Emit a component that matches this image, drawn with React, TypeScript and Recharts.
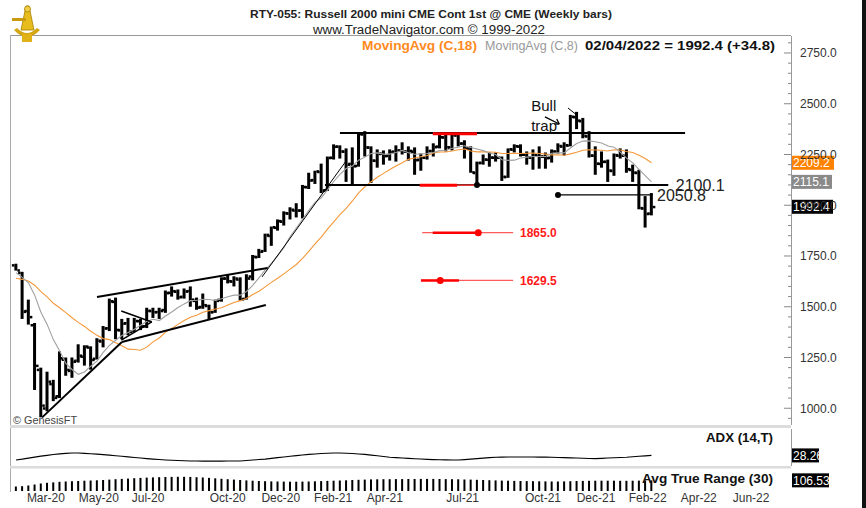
import React from "react";
import { ComposedChart, Bar, Line, XAxis, YAxis, ReferenceLine, ReferenceDot } from "recharts";

// ---------- data (weekly bars, RTY continuous) ----------
const opens = [1705,1668,1480,1410,1190,1000,1120,1060,1240,1185,
1235,1255,1300,1245,1330,1395,1525,1385,1420,1380,
1430,1405,1480,1475,1485,1570,1575,1550,1578,1530,
1500,1505,1475,1535,1640,1625,1635,1540,1650,1745,
1775,1850,1890,1920,1960,1975,1975,2090,2125,2165,
2075,2235,2290,2265,2205,2195,2350,2285,2220,2255,
2245,2265,2270,2265,2265,2225,2235,2268,2290,2335,
2285,2345,2305,2280,2160,2210,2225,2235,2235,2140,
2275,2290,2250,2235,2245,2240,2235,2265,2290,2295,
2435,2415,2340,2245,2205,2215,2170,2245,2245,2175,
2160,1985,1960];
const highs = [1712,1672,1535,1420,1200,1180,1140,1280,1250,1250,
1315,1310,1305,1345,1405,1540,1545,1440,1445,1445,
1440,1495,1495,1495,1580,1600,1585,1590,1600,1545,
1565,1510,1535,1645,1660,1650,1645,1660,1755,1785,
1860,1895,1930,1970,1990,2010,2100,2160,2170,2205,
2240,2300,2295,2280,2285,2355,2365,2290,2275,2270,
2275,2295,2310,2290,2285,2255,2290,2305,2350,2350,
2350,2350,2320,2290,2215,2250,2260,2260,2240,2280,
2300,2300,2265,2275,2290,2260,2275,2305,2310,2445,
2460,2430,2365,2290,2265,2225,2255,2280,2275,2200,
2175,2045,2060];
const lows = [1678,1440,1412,1090,955,985,1035,1050,1160,1150,
1225,1210,1190,1240,1300,1380,1340,1340,1360,1375,
1385,1395,1445,1440,1470,1550,1535,1540,1500,1485,
1490,1440,1470,1525,1615,1600,1530,1535,1630,1740,
1770,1800,1875,1900,1930,1940,1935,2080,2105,2060,
2070,2225,2230,2115,2100,2190,2240,2110,2185,2200,
2220,2215,2250,2220,2150,2170,2225,2240,2280,2265,
2270,2290,2230,2160,2095,2200,2190,2215,2120,2135,
2260,2240,2200,2175,2180,2180,2210,2255,2245,2290,
2375,2330,2235,2150,2185,2115,2145,2230,2160,2115,
1980,1890,1950];
const closes = [1680,1476,1450,1210,1014,1132,1052,1247,1190,1230,
1260,1305,1239,1334,1394,1528,1387,1418,1377,1431,
1404,1481,1474,1480,1568,1578,1548,1576,1536,1497,
1509,1474,1530,1640,1627,1640,1538,1640,1747,1772,
1855,1893,1923,1962,1979,1975,2091,2123,2168,2073,
2234,2289,2266,2201,2193,2352,2286,2221,2254,2243,
2263,2271,2266,2269,2223,2235,2268,2287,2336,2287,
2346,2305,2280,2163,2209,2226,2236,2235,2141,2277,
2292,2250,2237,2248,2241,2233,2266,2293,2297,2437,
2418,2343,2246,2206,2215,2172,2248,2245,2179,2162,
1987,1958,1992.4];
const movingAvg18 = [1640,1635,1627,1606,1574,1549,1517,1495,1471,1446,
1423,1403,1379,1359,1343,1338,1323,1308,1291,1289,
1286,1301,1327,1346,1375,1393,1413,1432,1448,1458,
1473,1481,1489,1495,1508,1521,1530,1541,1560,1576,
1598,1620,1640,1662,1685,1708,1738,1773,1810,1843,
1882,1918,1954,1985,2021,2061,2091,2116,2138,2157,
2176,2193,2209,2226,2233,2239,2245,2257,2262,2262,
2267,2273,2277,2267,2263,2263,2262,2261,2255,2255,
2256,2255,2256,2257,2255,2252,2248,2249,2246,2253,
2261,2271,2273,2272,2271,2267,2273,2272,2265,2260,
2246,2230,2209.2];
const movingAvg8 = [1668,1645,1618,1557,1473,1413,1338,1283,1221,1191,
1167,1179,1207,1232,1275,1310,1335,1358,1373,1389,
1409,1428,1438,1432,1454,1474,1496,1514,1530,1532,
1537,1536,1531,1539,1549,1557,1557,1575,1605,1642,
1682,1714,1751,1791,1846,1888,1931,1975,2014,2037,
2076,2117,2152,2181,2193,2222,2237,2255,2258,2252,
2252,2260,2270,2259,2251,2253,2255,2260,2269,2271,
2281,2286,2293,2284,2277,2269,2257,2250,2224,2221,
2222,2233,2237,2240,2240,2240,2256,2258,2258,2282,
2304,2316,2317,2313,2307,2292,2286,2262,2232,2209,
2177,2146,2115.1];
const adxValues = [14.5,17,20,23,26,28.5,31,33,34.5,35.5,
35.3,34.5,33.3,32,30.5,29,27.3,25.6,23.8,22,
20.3,18.7,17.2,15.8,14.6,13.6,12.8,12.1,11.5,11.3,
11.2,11.1,11.1,11.2,11.3,11.4,11.5,12.8,14.3,15.8,
17.2,19.3,21.5,23.6,25.7,27.7,29.6,31.3,32.6,33.8,
34.8,35.5,35.3,34.7,33.8,32.6,31.3,29.2,27.1,25,
22.9,21.6,20.5,19.4,18.4,17.4,16.5,15.7,15.3,14.9,
14.6,14.5,15.6,17,18.5,20,21.5,22.9,23.2,23.4,
23.5,23.5,23.4,23.3,23.2,23,22.9,22.2,21.6,21,
20.4,19.8,19.2,18.7,19.4,20.3,21.2,22.1,22.9,24.2,
25.6,27,28.26];
const atrValues = [45,48,55,65,75,82,86,92,95,98,
100,103,105,107,110,114,118,121,124,128,
131,134,136,138,140,141,142,142,141,138,
135,131,127,122,118,114,110,106,103,100,
98,96,95,94,93,93,94,95,97,99,
101,103,105,107,110,112,114,116,117,118,
118,119,119,120,120,121,121,121,120,119,
118,117,115,114,112,110,108,106,104,103,
101,100,99,98,97,96,95,95,96,98,
100,101,102,103,103,103,103,102,102,103,
104,105,106.53];

const monthTickPos = [4.8,13.3,21.2,34.0,42.5,50.9,59.2,71.7,84.6,93.1,101.4,109.6,118.0];
const monthTickLabels = ["Mar-20","May-20","Jul-20","Oct-20","Dec-20","Feb-21","Apr-21","Jul-21","Oct-21","Dec-21","Feb-22","Apr-22","Jun-22"];
const priceLabelTicks = [1000,1250,1500,1750,2000,2250,2500,2750];

const FIRST_WEEK = Date.UTC(2020, 1, 21);
const weekEnding = closes.map((_, i) => new Date(FIRST_WEEK + i * 7 * 86400000).toISOString().slice(0, 10));

const data = closes.map((c, i) => ({
  i, week: weekEnding[i], open: opens[i], high: highs[i], low: lows[i], close: c,
  range: [lows[i], highs[i]], ma18: movingAvg18[i], ma8: movingAvg8[i], adx: adxValues[i], atr: atrValues[i],
}));

// ---------- drawing constants (one plot area split into three panes) ----------
const X_DOMAIN: [number, number] = [-0.96, 124.4];
const PRICE_DOMAIN: [number, number] = [592.3, 2833.7];
const ADX_DOMAIN: [number, number] = [-78.5, 1286.5];
const ATR_DOMAIN: [number, number] = [0, 4550];
const FONT = "'Liberation Sans', Arial, sans-serif";
const minorPriceTicks: number[] = [];
for (let v = 950; v <= 2800; v += 50) minorPriceTicks.push(v);

type Seg = { a: [number, number]; b: [number, number]; w: number; c: string };
const annotations: Seg[] = [
  { a: [4.2, 955], b: [17.0, 1326], w: 2, c: "#000" },
  { a: [17.0, 1326], b: [40.1, 1509], w: 2, c: "#000" },
  { a: [13.0, 1548], b: [40.4, 1691], w: 2, c: "#000" },
  { a: [16.9, 1479], b: [21.8, 1425], w: 1.5, c: "#000" },
  { a: [16.9, 1336], b: [21.8, 1425], w: 1.5, c: "#000" },
  { a: [39.5, 1647], b: [53.1, 2223], w: 1, c: "#000" },
  { a: [52.0, 2356], b: [107.4, 2356], w: 2, c: "#000" },
  { a: [49.6, 2100.1], b: [104.7, 2100.1], w: 2, c: "#000" },
  { a: [87.0, 2050.8], b: [102.2, 2050.8], w: 1.3, c: "#000" },
  { a: [66.9, 2352], b: [74.0, 2352], w: 3, c: "#ff0000" },
  { a: [64.8, 2099], b: [70.8, 2099], w: 3, c: "#ff0000" },
  { a: [70.8, 2099], b: [74.0, 2099], w: 1.5, c: "#ff4040" },
  { a: [65.2, 1865], b: [79.8, 1865], w: 1.3, c: "#ff5a5a" },
  { a: [66.9, 1865], b: [74.2, 1865], w: 2.5, c: "#ff0000" },
  { a: [65.0, 1629.5], b: [79.8, 1629.5], w: 1.3, c: "#ff5a5a" },
  { a: [65.0, 1629.5], b: [71.1, 1629.5], w: 2.5, c: "#ff0000" },
  { a: [84.9, 2435], b: [87.2, 2400], w: 1.3, c: "#000" },
  { a: [87.2, 2400], b: [86.4, 2400], w: 1.3, c: "#000" },
  { a: [87.2, 2400], b: [86.8, 2425], w: 1.3, c: "#000" },
  { a: [88.6, 2479], b: [90.2, 2440], w: 1, c: "#000" },
];
const dots = [
  { x: 74.0, y: 2100.1, c: "#000", r: 3 },
  { x: 87.0, y: 2050.8, c: "#000", r: 3 },
  { x: 74.2, y: 1865, c: "#ff0000", r: 3.5 },
  { x: 68.1, y: 1629.5, c: "#ff0000", r: 3.5 },
];
const texts = [
  { x: 105.9, y: 2100.1, t: "2100.1", c: "#222", s: 16, b: false },
  { x: 102.9, y: 2050.8, t: "2050.8", c: "#222", s: 16, b: false },
  { x: 80.9, y: 1865, t: "1865.0", c: "#ff1a1a", s: 12, b: true },
  { x: 80.9, y: 1629.5, t: "1629.5", c: "#ff1a1a", s: 12, b: true },
  { x: 82.7, y: 2489, t: "Bull", c: "#111", s: 15, b: false },
  { x: 82.7, y: 2390, t: "trap", c: "#111", s: 15, b: false },
];
const priceBadges = [
  { v: 2209.2, bg: "#ff8200", w: 42 },
  { v: 2115.1, bg: "#8a8a8a", w: 40 },
  { v: 1992.4, bg: "#000000", w: 41 },
];

// ---------- shapes ----------
const OhlcShape = (p: any) => {
  const { x, y, width, height, payload } = p;
  if (!payload || x == null) return null;
  const top = Math.min(y, y + height);
  const h = Math.max(Math.abs(height), 2);
  const cx = x + width / 2;
  const span = payload.high - payload.low || 1;
  const toY = (v: number) => top + ((payload.high - v) / span) * h;
  return (
    <g>
      <rect x={cx - 1.5} y={top} width={3} height={h} fill="#000" />
      <rect x={cx - 4} y={toY(payload.open) - 1} width={2.5} height={2.5} fill="#000" />
      <rect x={cx + 1.5} y={toY(payload.close) - 1} width={2.5} height={2.5} fill="#000" />
    </g>
  );
};

const AtrShape = (p: any) => {
  const { x, y, width, height } = p;
  if (x == null || y == null || isNaN(x) || isNaN(y)) return null;
  const top = Math.min(y, y + height);
  const h = Math.max(Math.abs(height), 1);
  const cx = x + width / 2;
  return <rect x={cx - 1} y={top} width={2} height={h} fill="#000" />;
};

const PriceTick = (p: any) => {
  const { x, y, payload } = p;
  const v = payload.value;
  const major = priceLabelTicks.includes(v);
  return (
    <g>
      <line x1={x - (major ? 7 : 3)} x2={x} y1={y} y2={y} stroke="#888" />
      {major && (
        <text x={x + 9} y={y + 4.5} fontSize={12} fill="#333" fontFamily={FONT}>{v.toFixed(1)}</text>
      )}
    </g>
  );
};

const MonthTick = (p: any) => {
  const { x, y, payload } = p;
  const k = monthTickPos.indexOf(payload.value);
  return (
    <text x={x} y={y + 11} textAnchor="middle" fontSize={12} fill="#333" fontFamily={FONT}>
      {monthTickLabels[k]}
    </text>
  );
};

const badge = (label: string, bg: string, w: number) => (p: any) => (
  <g>
    <rect x={p.cx + 1} y={p.cy - 7} width={w} height={14} fill={bg} />
    <text x={p.cx + 2} y={p.cy + 4.5} fontSize={12} fill="#fff" fontFamily={FONT}>{label}</text>
  </g>
);

const textShape = (t: string, c: string, s: number, b: boolean) => (p: any) => (
  <text x={p.cx} y={p.cy} dy="0.36em" fontSize={s} fill={c} fontWeight={b ? 700 : 400} fontFamily={FONT}>{t}</text>
);

const Logo = () => (
  <g>
    <path d="M14 30 Q27 44 40 30 L37 28 Q27 38 17 28 Z" fill="#d4a514" />
    <polygon points="26,6 29,6 34,30 21,30" fill="#e6bd1c" stroke="#a67c00" strokeWidth={0.8} />
    <circle cx={27.5} cy={9} r={3} fill="#f2d04a" stroke="#a67c00" strokeWidth={0.8} />
    <rect x={12} y={18} width={14} height={3} fill="#c99a10" />
    <rect x={22} y={34} width={10} height={8} fill="#e0b218" />
  </g>
);

export default function App() {
  return (
    <div style={{ position: "absolute", left: 0, top: 0, width: 866, height: 508, background: "#fff", overflow: "hidden" }}>
      <div style={{ position: "absolute", left: 0, top: 0 }}>
        <ComposedChart width={866} height={508} data={data} margin={{ top: 36, right: 15, bottom: 0, left: 10 }}>
          <XAxis type="number" dataKey="i" domain={X_DOMAIN} hide allowDataOverflow orientation="top" />
          <XAxis xAxisId="d" type="number" dataKey="i" domain={X_DOMAIN} allowDataOverflow ticks={monthTickPos} interval={0}
            height={17} axisLine={false} tickLine={false} tickSize={0} tickMargin={0} tick={<MonthTick />} />
          <YAxis orientation="right" width={60} domain={PRICE_DOMAIN} ticks={minorPriceTicks} interval={0}
            allowDataOverflow axisLine={false} tickLine={false} tickSize={0} tickMargin={0} tick={<PriceTick />} />
          <YAxis yAxisId="adx" orientation="right" hide domain={ADX_DOMAIN} allowDataOverflow />
          <YAxis yAxisId="atr" orientation="right" hide domain={ATR_DOMAIN} allowDataOverflow />
          <Bar dataKey="range" barSize={6} shape={<OhlcShape />} isAnimationActive={false} />
          <Bar xAxisId="d" yAxisId="atr" dataKey="atr" barSize={6} shape={<AtrShape />} isAnimationActive={false} />
          <Line dataKey="ma18" stroke="#f5993a" strokeWidth={1.1} dot={false} isAnimationActive={false} />
          <Line dataKey="ma8" stroke="#a0a0a0" strokeWidth={1.1} dot={false} isAnimationActive={false} />
          <Line yAxisId="adx" dataKey="adx" stroke="#000" strokeWidth={1.1} dot={false} isAnimationActive={false} />
          {annotations.map((s, k) => (
            <ReferenceLine key={"s" + k} segment={[{ x: s.a[0], y: s.a[1] }, { x: s.b[0], y: s.b[1] }]}
              stroke={s.c} strokeWidth={s.w} ifOverflow="visible" />
          ))}
          {dots.map((d, k) => (
            <ReferenceDot key={"d" + k} x={d.x} y={d.y} r={d.r} fill={d.c} stroke="none" ifOverflow="visible" />
          ))}
          {texts.map((t, k) => (
            <ReferenceDot key={"t" + k} x={t.x} y={t.y} r={0} ifOverflow="visible" shape={textShape(t.t, t.c, t.s, t.b)} />
          ))}
          {priceBadges.map((b, k) => (
            <ReferenceDot key={"b" + k} x={X_DOMAIN[1]} y={b.v} r={0} ifOverflow="visible" shape={badge(b.v.toFixed(1), b.bg, b.w)} />
          ))}
          <ReferenceDot yAxisId="adx" x={X_DOMAIN[1]} y={28.26} r={0} ifOverflow="visible" shape={badge("28.26", "#000", 27)} />
          <ReferenceDot yAxisId="atr" x={X_DOMAIN[1]} y={106.53} r={0} ifOverflow="visible" shape={badge("106.53", "#000", 37)} />
        </ComposedChart>
      </div>
      {/* frame, separators, headers and panel labels */}
      <svg width={866} height={508} style={{ position: "absolute", left: 0, top: 0, pointerEvents: "none" }}>
        <line x1={10} x2={791} y1={35.5} y2={35.5} stroke="#999" />
        <line x1={10.5} x2={10.5} y1={35} y2={492} stroke="#aaa" />
        <line x1={791.5} x2={791.5} y1={36} y2={425} stroke="#999" />
        <line x1={791.5} x2={791.5} y1={429} y2={466} stroke="#999" />
        <rect x={10} y={425} width={781} height={3} fill="#dcdcdc" />
        <rect x={10} y={466} width={781} height={2.5} fill="#dcdcdc" />
        <rect x={862} y={0} width={4} height={508} fill="#111" />
        <Logo />
        <text x={250} y={18} fontSize={11} fontWeight={700} fill="#222" fontFamily={FONT} textLength={362} lengthAdjust="spacingAndGlyphs">
          RTY-055:  Russell 2000 mini CME Cont 1st @ CME  (Weekly bars)
        </text>
        <text x={313} y={34} fontSize={12} fill="#222" fontFamily={FONT} textLength={232} lengthAdjust="spacingAndGlyphs">
          www.TradeNavigator.com © 1999-2022
        </text>
        <text x={362} y={50} fontSize={13} fontWeight={700} fill="#ff8a1e" fontFamily={FONT} textLength={115} lengthAdjust="spacingAndGlyphs">MovingAvg (C,18)</text>
        <text x={485} y={50} fontSize={13} fill="#999" fontFamily={FONT} textLength={93} lengthAdjust="spacingAndGlyphs">MovingAvg (C,8)</text>
        <text x={585} y={50} fontSize={13} fontWeight={700} fill="#111" fontFamily={FONT} textLength={190} lengthAdjust="spacingAndGlyphs">02/04/2022 = 1992.4 (+34.8)</text>
        <text x={13} y={424} fontSize={11} fill="#444" fontFamily={FONT} textLength={64} lengthAdjust="spacingAndGlyphs">© GenesisFT</text>
        <text x={706} y={442} fontSize={12} fontWeight={700} fill="#111" fontFamily={FONT} textLength={67} lengthAdjust="spacingAndGlyphs">ADX (14,T)</text>
        <text x={642} y={483} fontSize={12} fontWeight={700} fill="#111" fontFamily={FONT} textLength={131} lengthAdjust="spacingAndGlyphs">Avg True Range (30)</text>
      </svg>
    </div>
  );
}
